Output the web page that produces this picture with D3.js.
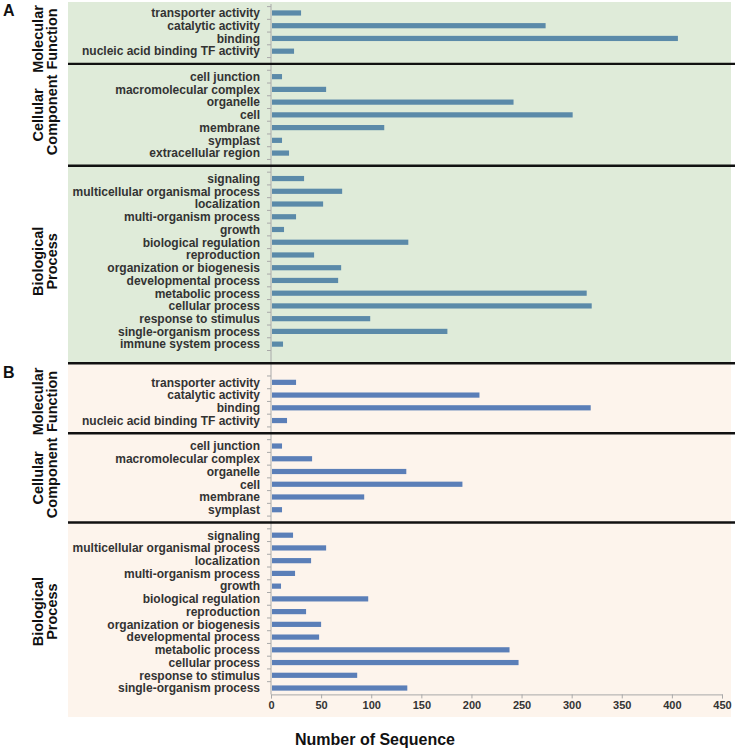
<!DOCTYPE html>
<html>
<head>
<meta charset="utf-8">
<script src="https://cdn.jsdelivr.net/npm/d3@7"></script>
<style>
body{margin:0;background:#fff;}
text{font-family:"Liberation Sans",Arial,sans-serif;font-weight:bold;}
</style>
</head>
<body>
<div id="graph"></div>
<script>
// categories per section (top to bottom)
mfCatsA=["transporter activity","catalytic activity","binding","nucleic acid binding TF activity"];
mfValsA=[30,274,406,23];
ccCatsA=["cell junction","macromolecular complex","organelle","cell","membrane","symplast","extracellular region"];
ccValsA=[11,55,242,301,113,11,18];
bpCatsA=["signaling","multicellular organismal process","localization","multi-organism process","growth","biological regulation","reproduction","organization or biogenesis","developmental process","metabolic process","cellular process","response to stimulus","single-organism process","immune system process"];
bpValsA=[33,71,52,25,13,137,43,70,67,315,320,99,176,12];

mfCatsB=["transporter activity","catalytic activity","binding","nucleic acid binding TF activity"];
mfValsB=[25,208,319,16];
ccCatsB=["cell junction","macromolecular complex","organelle","cell","membrane","symplast"];
ccValsB=[11,41,135,191,93,11];
bpCatsB=["signaling","multicellular organismal process","localization","multi-organism process","growth","biological regulation","reproduction","organization or biogenesis","developmental process","metabolic process","cellular process","response to stimulus","single-organism process"];
bpValsB=[22,55,40,24,10,97,35,50,48,238,247,86,136];

sectionNames=[["Molecular","Function"],["Cellular","Component"],["Biological","Process"]];
xTicks=[0,50,100,150,200,250,300,350,400,450];
xTitle="Number of Sequence";

width=737;
height=751;

// build the slot list, gaps included
slots=[];
addSection=function(panel,sec,cats,vals){
	for (var i = 0; i < cats.length; i++) {
		slots.push({key:panel+"|"+sec+"|"+i,name:cats[i],value:vals[i],panel:panel,sec:sec});
	};
};
addGap=function(panel,n){slots.push({key:panel+"|gap"+n,gap:true,panel:panel});};

addSection("A",0,mfCatsA,mfValsA); addGap("A",1);
addSection("A",1,ccCatsA,ccValsA); addGap("A",2);
addSection("A",2,bpCatsA,bpValsA); addGap("A",3);
addGap("B",0);
addSection("B",0,mfCatsB,mfValsB); addGap("B",1);
addSection("B",1,ccCatsB,ccValsB); addGap("B",2);
addSection("B",2,bpCatsB,bpValsB);

svg=d3.select("#graph").append("svg").attr("width",width).attr("height",height);

x=d3.scaleLinear().domain([0,450]).range([271,722]);
y=d3.scaleBand().domain(slots.map(function(d){return d.key})).range([6.6,694.4]);
step=y.step();
cy=function(k){return y(k)+step/2};

splitY=y("B|gap0");
panelLeft=68; panelRight=731;

// backgrounds
svg.append("rect").attr("x",panelLeft).attr("y",2).attr("width",panelRight-panelLeft).attr("height",splitY-2).attr("fill","#dfebd9");
svg.append("rect").attr("x",panelLeft).attr("y",splitY).attr("width",panelRight-panelLeft).attr("height",717-splitY).attr("fill","#fdf4ec");

// left axis line and ticks at slot boundaries
svg.append("line").attr("x1",x(0)).attr("x2",x(0)).attr("y1",4).attr("y2",y.range()[1]).attr("stroke","#a9a9a9").attr("stroke-width",1);
svg.append("g").selectAll("line").data(slots).enter().append("line")
	.attr("x1",x(0)-4).attr("x2",x(0))
	.attr("y1",function(d){return y(d.key)}).attr("y2",function(d){return y(d.key)})
	.attr("stroke","#a9a9a9");

// bars
var real=slots.filter(function(d){return !d.gap});
svg.append("g").selectAll("rect").data(real).enter().append("rect")
	.attr("x",x(0)+1)
	.attr("y",function(d){return cy(d.key)-2.6})
	.attr("width",function(d){return x(d.value)-x(0)-1})
	.attr("height",5.2)
	.attr("fill",function(d){return d.panel=="A"?"#5b8aa9":"#5b7fb8"});

// category labels
svg.append("g").selectAll("text").data(real).enter().append("text")
	.text(function(d){return d.name})
	.attr("x",260).attr("y",function(d){return cy(d.key)})
	.attr("dy","0.36em").attr("text-anchor","end")
	.attr("font-size","12px").attr("fill","#333");

// dividers
var divs=[cy("A|gap1"),cy("A|gap2"),splitY,cy("B|gap1"),cy("B|gap2")];
svg.append("g").selectAll("line").data(divs).enter().append("line")
	.attr("x1",panelLeft).attr("x2",735)
	.attr("y1",function(d){return d}).attr("y2",function(d){return d})
	.attr("stroke","#111").attr("stroke-width",2.4);

// section labels
["A","B"].forEach(function(p){
	for (var s = 0; s < 3; s++) {
		var ks=real.filter(function(d){return d.panel==p&&d.sec==s});
		var mid=(cy(ks[0].key)+cy(ks[ks.length-1].key))/2;
		mid=Math.max(mid,39);
		var t=svg.append("text").attr("transform","translate(0,"+mid+") rotate(-90)")
			.attr("text-anchor","middle").attr("font-size","14.5px").attr("fill","#111");
		t.append("tspan").attr("x",0).attr("y",43).text(sectionNames[s][0]);
		t.append("tspan").attr("x",0).attr("y",57).text(sectionNames[s][1]);
	};
});

// panel letters
svg.append("text").text("A").attr("x",3).attr("y",16).attr("font-size","16px").attr("fill","#111");
svg.append("text").text("B").attr("x",3).attr("y",splitY+15).attr("font-size","16px").attr("fill","#111");

// x axis
var gx=svg.append("g").attr("transform","translate(0,"+y.range()[1]+")")
	.call(d3.axisBottom(x).tickValues(xTicks).tickSize(4).tickPadding(3).tickFormat(d3.format("d")));
gx.select(".domain").attr("stroke","#a9a9a9");
gx.selectAll(".tick line").attr("stroke","#a9a9a9");
gx.selectAll(".tick text").attr("font-size","11px").attr("fill","#333").attr("font-family","Liberation Sans, Arial, sans-serif").attr("font-weight","bold");

svg.append("text").text(xTitle).attr("x",375).attr("y",745).attr("text-anchor","middle").attr("font-size","16px").attr("fill","#111");
</script>
</body>
</html>
